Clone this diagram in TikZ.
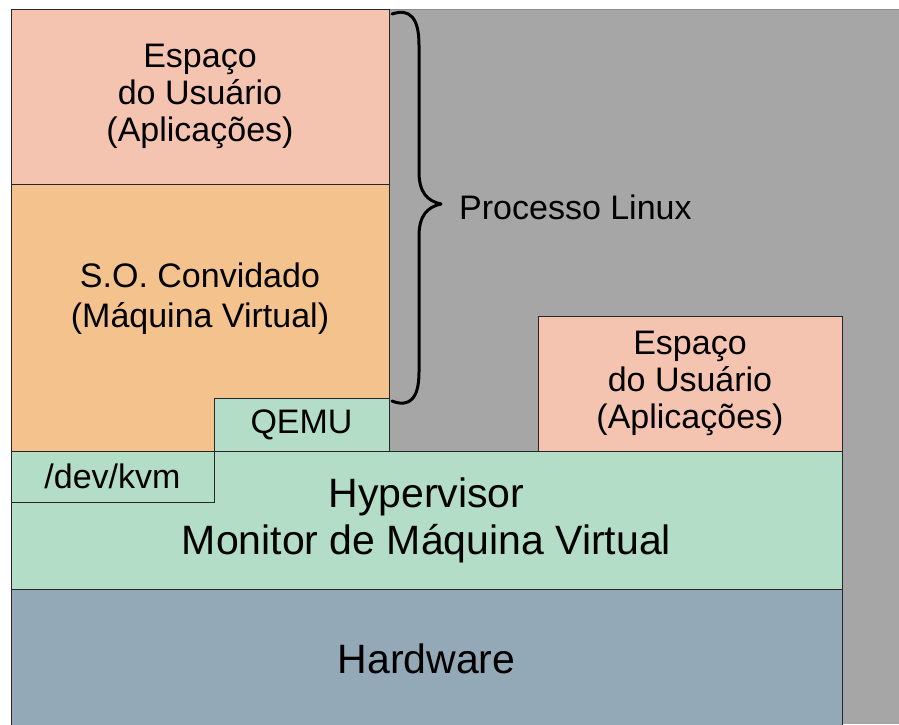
\documentclass[tikz,border=0pt]{standalone}
\usepackage{fontspec}
\setmainfont{Liberation Sans}
\usepackage{tikz}
\usetikzlibrary{calc, positioning, backgrounds}
\definecolor{userpink}{HTML}{F5C4B1}
\definecolor{guestorange}{HTML}{F4C28D}
\definecolor{hvgreen}{HTML}{B3DDC7}
\definecolor{hwblue}{HTML}{93A9B8}
\definecolor{bggray}{HTML}{A6A6A6}
\tikzstyle{blk}=[inner sep=0pt, draw=black!85, line width=1pt, shape=rectangle, align=center, font=\fontsize{34}{37}\selectfont]
\tikzstyle{bigblk}=[blk, font=\fontsize{41}{47}\selectfont]
\tikzstyle{brc}=[line width=3pt, line cap=round, line join=round]

\begin{document}
\begin{tikzpicture}[x=1pt, y=-1pt]
\useasboundingbox (0,0) rectangle (899,724);
% the grey background
\fill[bggray] (11,9) rectangle (899,724);
\draw[black!45, line width=1pt] (11,9) -- (899,9);
% the hardware and the hypervisor
\node[bigblk, fill=hwblue, minimum width=831pt, minimum height=139pt] (HW) at (426.5,658.5) {Hardware};
\node[bigblk, fill=hvgreen, minimum width=831pt, minimum height=138pt] (HV) at (426.5,520) {Hypervisor\\Monitor de Máquina Virtual};
\node[blk, fill=hvgreen, minimum width=203pt, minimum height=51pt] (KVM) at (112.5,476.5) {/dev/kvm};
% the guest side
\node[blk, fill=guestorange, minimum width=378pt, minimum height=267pt,
  label={[font=\fontsize{34}{40}\selectfont, align=center, yshift=19pt]center:{S.O. Convidado\\(Máquina Virtual)}}] (SO) at (200,317.5) {};
\node[blk, fill=hvgreen, minimum width=175pt, minimum height=53pt] (QEMU) at (301.5,424.5) {QEMU};
\node[blk, fill=userpink, minimum width=378pt, minimum height=175pt] (US1) at (200,96.5) {Espaço\\do Usuário\\(Aplicações)};
% the host side
\node[blk, fill=userpink, minimum width=304pt, minimum height=135pt] (US2) at (690,383.5) {Espaço\\do Usuário\\(Aplicações)};
% the brace
\coordinate (BT) at (392,14);
\coordinate (BM) at (441,204);
\coordinate (BB) at (392,401);
\draw[brc] (BT) .. controls (410,8) and (419,18) .. (419,45) -- (419,172)
  .. controls (419,192) and (427,201) .. (BM);
\draw[brc] (BM) .. controls (427,207) and (419,216) .. (419,236) -- (419,372)
  .. controls (419,398) and (410,408) .. (BB);
\node[anchor=west, inner sep=0pt, font=\fontsize{34}{37}\selectfont] (PL) at (459,207) {Processo Linux};
\end{tikzpicture}
\end{document}
